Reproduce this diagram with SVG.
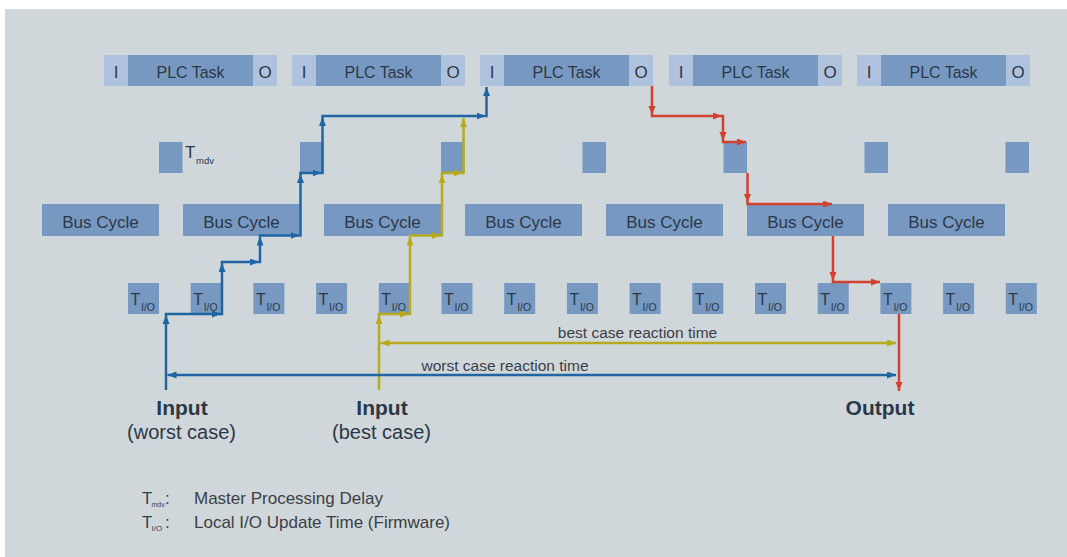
<svg xmlns="http://www.w3.org/2000/svg" width="1067" height="557" viewBox="0 0 1067 557">
<defs>
<style>
.bg{fill:#cfd7da}
.dk{fill:#7798c1}
.lt{fill:#afc2dd}
.t{font-family:"Liberation Sans",Arial,sans-serif;fill:#2c3848}
.box{font-size:17px;text-anchor:middle}
.io{font-size:16px}
.sub{font-size:10.5px}
.lbl{font-family:"Liberation Sans",Arial,sans-serif;fill:#3b4048}
.b{stroke:#1f64a3;stroke-width:2.5;fill:none}
.y{stroke:#b7ab1c;stroke-width:2.5;fill:none}
.r{stroke:#d2412f;stroke-width:2.5;fill:none}
.b > path{marker-end:url(#ab)}
.y > path{marker-end:url(#ay)}
.r > path{marker-end:url(#ar)}
</style>
<marker id="ab" markerUnits="userSpaceOnUse" markerWidth="10" markerHeight="8" refX="9" refY="3.5" orient="auto-start-reverse"><path d="M0,0 L9,3.5 L0,7 z" fill="#1f64a3"/></marker>
<marker id="ay" markerUnits="userSpaceOnUse" markerWidth="10" markerHeight="8" refX="9" refY="3.5" orient="auto-start-reverse"><path d="M0,0 L9,3.5 L0,7 z" fill="#b7ab1c"/></marker>
<marker id="ar" markerUnits="userSpaceOnUse" markerWidth="10" markerHeight="8" refX="9" refY="3.5" orient="auto-start-reverse"><path d="M0,0 L9,3.5 L0,7 z" fill="#d2412f"/></marker>
</defs>
<rect x="0" y="0" width="1067" height="557" fill="#ffffff"/>
<rect class="bg" x="5" y="9" width="1062" height="548"/>

<g id="plc-tasks">
<g id="plc1"><rect class="lt" x="104" y="55" width="24" height="31"/><rect class="dk" x="128" y="55" width="125" height="31"/><rect class="lt" x="253" y="55" width="24" height="31"/><text class="t box" x="116" y="78">I</text><text class="t box" x="190.5" y="78" textLength="68" lengthAdjust="spacingAndGlyphs">PLC Task</text><text class="t box" x="265" y="78">O</text></g>
<g id="plc2"><rect class="lt" x="292" y="55" width="24" height="31"/><rect class="dk" x="316" y="55" width="125" height="31"/><rect class="lt" x="441" y="55" width="24" height="31"/><text class="t box" x="304" y="78">I</text><text class="t box" x="378.5" y="78" textLength="68" lengthAdjust="spacingAndGlyphs">PLC Task</text><text class="t box" x="453" y="78">O</text></g>
<g id="plc3"><rect class="lt" x="480" y="55" width="24" height="31"/><rect class="dk" x="504" y="55" width="125" height="31"/><rect class="lt" x="629" y="55" width="24" height="31"/><text class="t box" x="492" y="78">I</text><text class="t box" x="566.5" y="78" textLength="68" lengthAdjust="spacingAndGlyphs">PLC Task</text><text class="t box" x="641" y="78">O</text></g>
<g id="plc4"><rect class="lt" x="669" y="55" width="24" height="31"/><rect class="dk" x="693" y="55" width="125" height="31"/><rect class="lt" x="818" y="55" width="24" height="31"/><text class="t box" x="681" y="78">I</text><text class="t box" x="755.5" y="78" textLength="68" lengthAdjust="spacingAndGlyphs">PLC Task</text><text class="t box" x="830" y="78">O</text></g>
<g id="plc5"><rect class="lt" x="857" y="55" width="24" height="31"/><rect class="dk" x="881" y="55" width="125" height="31"/><rect class="lt" x="1006" y="55" width="24" height="31"/><text class="t box" x="869" y="78">I</text><text class="t box" x="943.5" y="78" textLength="68" lengthAdjust="spacingAndGlyphs">PLC Task</text><text class="t box" x="1018" y="78">O</text></g>
</g>

<g id="tmdv">
<g id="tmdv1"><rect class="dk" x="159" y="142" width="23.5" height="31"/><text class="t" x="185" y="158" font-size="17">T</text><text class="t" x="196" y="164" font-size="9.5">mdv</text></g>
<g id="tmdv2"><rect class="dk" x="300" y="142" width="23.5" height="31"/></g>
<g id="tmdv3"><rect class="dk" x="441" y="142" width="23.5" height="31"/></g>
<g id="tmdv4"><rect class="dk" x="582.5" y="142" width="23.5" height="31"/></g>
<g id="tmdv5"><rect class="dk" x="723.5" y="142" width="23.5" height="31"/></g>
<g id="tmdv6"><rect class="dk" x="864.5" y="142" width="23.5" height="31"/></g>
<g id="tmdv7"><rect class="dk" x="1005.5" y="142" width="23.5" height="31"/></g>
</g>

<g id="bus-cycles">
<g id="bus1"><rect class="dk" x="42" y="204" width="117" height="32"/><text class="t box" x="100.5" y="228">Bus Cycle</text></g>
<g id="bus2"><rect class="dk" x="183" y="204" width="117" height="32"/><text class="t box" x="241.5" y="228">Bus Cycle</text></g>
<g id="bus3"><rect class="dk" x="324" y="204" width="117" height="32"/><text class="t box" x="382.5" y="228">Bus Cycle</text></g>
<g id="bus4"><rect class="dk" x="465" y="204" width="117" height="32"/><text class="t box" x="523.5" y="228">Bus Cycle</text></g>
<g id="bus5"><rect class="dk" x="606" y="204" width="117" height="32"/><text class="t box" x="664.5" y="228">Bus Cycle</text></g>
<g id="bus6"><rect class="dk" x="747" y="204" width="117" height="32"/><text class="t box" x="805.5" y="228">Bus Cycle</text></g>
<g id="bus7"><rect class="dk" x="888" y="204" width="117" height="32"/><text class="t box" x="946.5" y="228">Bus Cycle</text></g>
</g>

<g id="tio">
<g id="tio1"><rect class="dk" x="128" y="283" width="31" height="31"/><text class="t io" x="130.5" y="305">T</text><text class="t sub" x="141" y="311">I/O</text></g>
<g id="tio2"><rect class="dk" x="190.7" y="283" width="31" height="31"/><text class="t io" x="193.2" y="305">T</text><text class="t sub" x="203.7" y="311">I/O</text></g>
<g id="tio3"><rect class="dk" x="253.4" y="283" width="31" height="31"/><text class="t io" x="255.9" y="305">T</text><text class="t sub" x="266.4" y="311">I/O</text></g>
<g id="tio4"><rect class="dk" x="316.1" y="283" width="31" height="31"/><text class="t io" x="318.6" y="305">T</text><text class="t sub" x="329.1" y="311">I/O</text></g>
<g id="tio5"><rect class="dk" x="378.8" y="283" width="31" height="31"/><text class="t io" x="381.3" y="305">T</text><text class="t sub" x="391.8" y="311">I/O</text></g>
<g id="tio6"><rect class="dk" x="441.5" y="283" width="31" height="31"/><text class="t io" x="444" y="305">T</text><text class="t sub" x="454.5" y="311">I/O</text></g>
<g id="tio7"><rect class="dk" x="504.2" y="283" width="31" height="31"/><text class="t io" x="506.7" y="305">T</text><text class="t sub" x="517.2" y="311">I/O</text></g>
<g id="tio8"><rect class="dk" x="566.9" y="283" width="31" height="31"/><text class="t io" x="569.4" y="305">T</text><text class="t sub" x="579.9" y="311">I/O</text></g>
<g id="tio9"><rect class="dk" x="629.6" y="283" width="31" height="31"/><text class="t io" x="632.1" y="305">T</text><text class="t sub" x="642.6" y="311">I/O</text></g>
<g id="tio10"><rect class="dk" x="692.3" y="283" width="31" height="31"/><text class="t io" x="694.8" y="305">T</text><text class="t sub" x="705.3" y="311">I/O</text></g>
<g id="tio11"><rect class="dk" x="755" y="283" width="31" height="31"/><text class="t io" x="757.5" y="305">T</text><text class="t sub" x="768" y="311">I/O</text></g>
<g id="tio12"><rect class="dk" x="817.7" y="283" width="31" height="31"/><text class="t io" x="820.2" y="305">T</text><text class="t sub" x="830.7" y="311">I/O</text></g>
<g id="tio13"><rect class="dk" x="880.4" y="283" width="31" height="31"/><text class="t io" x="882.9" y="305">T</text><text class="t sub" x="893.4" y="311">I/O</text></g>
<g id="tio14"><rect class="dk" x="943.1" y="283" width="31" height="31"/><text class="t io" x="945.6" y="305">T</text><text class="t sub" x="956.1" y="311">I/O</text></g>
<g id="tio15"><rect class="dk" x="1005.8" y="283" width="31" height="31"/><text class="t io" x="1008.3" y="305">T</text><text class="t sub" x="1018.8" y="311">I/O</text></g>
</g>

<g id="connectors">
<g class="b">
<path d="M166,390 L166,315"/>
<path d="M164.75,314 L221,314"/>
<path d="M222,315.25 L222,263"/>
<path d="M220.75,262 L259,262"/>
<path d="M260,263.25 L260,236.5"/>
<path d="M258.75,235.5 L299.5,235.5"/>
<path d="M300.5,236.75 L300.5,174"/>
<path d="M299.25,173 L321.5,173"/>
<path d="M322.5,174.25 L322.5,117"/>
<path d="M321.25,116 L485.5,116"/>
<path d="M486.5,117.25 L486.5,87"/>
</g>
<g class="y">
<path d="M379,390 L379,315"/>
<path d="M377.75,314 L409,314"/>
<path d="M410,315.25 L410,236.5"/>
<path d="M408.75,235.5 L441,235.5"/>
<path d="M442,236.75 L442,174"/>
<path d="M440.75,173 L462.5,173"/>
<path d="M463.5,174.25 L463.5,118"/>
</g>
<g class="r">
<path d="M652,86 L652,115"/>
<path d="M650.75,116 L722,116"/>
<path d="M723,114.75 L723,141"/>
<path d="M721.75,142 L746,142"/>
<path d="M747.5,173 L747.5,203"/>
<path d="M746.25,204 L832,204"/>
<path d="M833,236 L833,281"/>
<path d="M831.75,282 L880,282"/>
<path d="M899,314 L899,391"/>
</g>
<path id="best-dim" d="M380.5,343 L896,343" stroke="#b7ab1c" stroke-width="2.5" fill="none" marker-start="url(#ay)" marker-end="url(#ay)"/>
<path id="worst-dim" d="M167.5,375 L896,375" stroke="#1f64a3" stroke-width="2.5" fill="none" marker-start="url(#ab)" marker-end="url(#ab)"/>
</g>

<g id="labels">
<text class="lbl" x="637.5" y="338" font-size="15.5" text-anchor="middle">best case reaction time</text>
<text class="lbl" x="505" y="371" font-size="15.5" text-anchor="middle">worst case reaction time</text>
<text class="t" x="182" y="415" font-size="21" font-weight="bold" text-anchor="middle">Input</text>
<text class="t" x="181.5" y="439" font-size="20" text-anchor="middle">(worst case)</text>
<text class="t" x="382" y="415" font-size="21" font-weight="bold" text-anchor="middle">Input</text>
<text class="t" x="381.5" y="439" font-size="20" text-anchor="middle">(best case)</text>
<text class="t" x="880" y="415" font-size="21" font-weight="bold" text-anchor="middle">Output</text>
</g>

<g id="legend">
<text class="lbl" x="142" y="504" font-size="17">T</text><text class="lbl" x="151.5" y="507" font-size="7">mdv</text><text class="lbl" x="165" y="504" font-size="17">:</text><text class="lbl" x="194" y="504" font-size="17">Master Processing Delay</text>
<text class="lbl" x="142" y="528" font-size="17">T</text><text class="lbl" x="151.5" y="531" font-size="8">I/O</text><text class="lbl" x="165" y="528" font-size="17">:</text><text class="lbl" x="194" y="528" font-size="17">Local I/O Update Time (Firmware)</text>
</g>
</svg>
